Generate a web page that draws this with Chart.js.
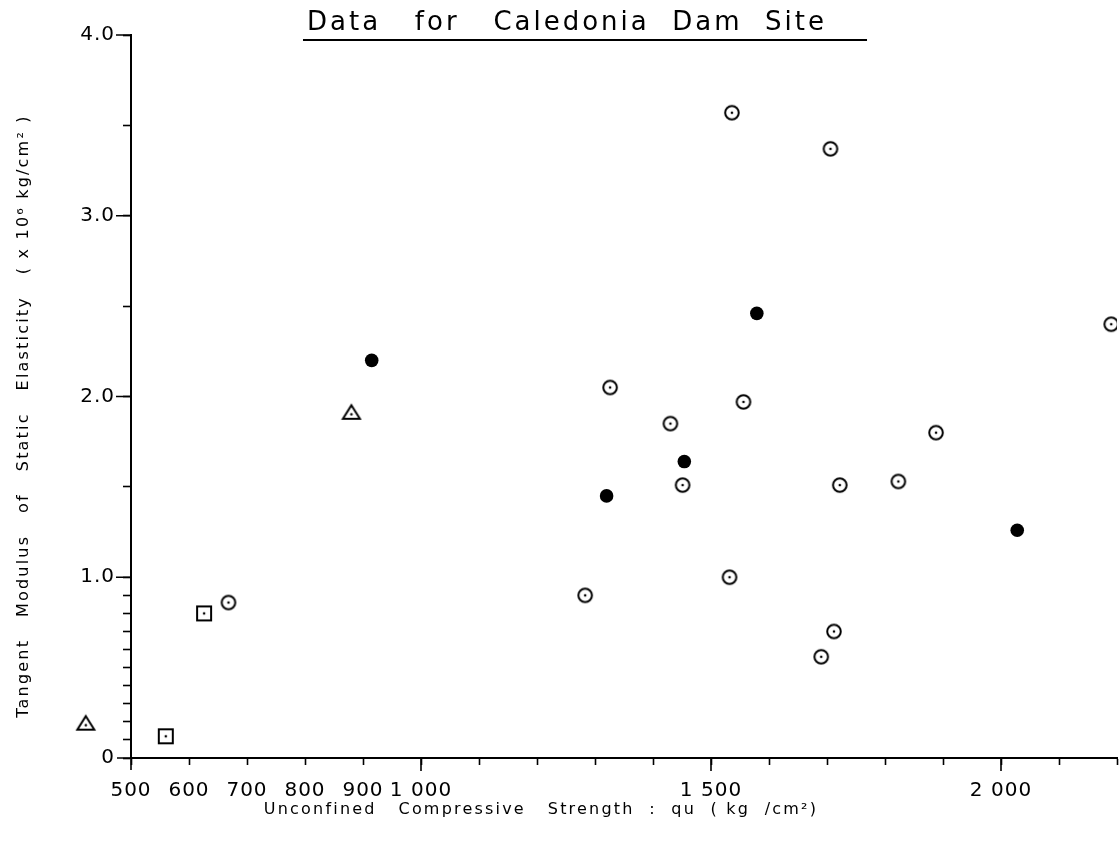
<!DOCTYPE html>
<html>
<head>
<meta charset="utf-8">
<title>Data for Caledonia Dam Site</title>
<script src="https://cdn.jsdelivr.net/npm/chart.js@4.4.1/dist/chart.umd.min.js"></script>
<style>
    body { margin: 0; background: #fff; }
    #wrap { width: 1120px; height: 850px; }
</style>
</head>
<body>
<div id="wrap"><canvas id="chart" width="1120" height="850"></canvas></div>
<script>
// qu (kg/cm2) and tangent modulus (x10^6 kg/cm2)
const openX = [668, 1283, 1326, 1430, 1451, 1532, 1536, 1556, 1690, 1706, 1712, 1722, 1823, 1888, 2190];
const openY = [0.86, 0.90, 2.05, 1.85, 1.51, 1.00, 3.57, 1.97, 0.56, 3.37, 0.70, 1.51, 1.53, 1.80, 2.40];
const solidX = [915, 1320, 1454, 1579, 2028];
const solidY = [2.20, 1.45, 1.64, 2.46, 1.26];
const triangleX = [422, 880];
const triangleY = [0.19, 1.91];
const squareX = [560, 626];
const squareY = [0.12, 0.80];

// axis ticks
const xLabelValues = [500, 600, 700, 800, 900, 1000, 1500, 2000];
const xLabelTexts = ['500', '600', '700', '800', '900', '1 000', '1 500', '2 000'];
const xLongTicks = [1000, 1500, 2000];
const yTickValues = [0, 0.1, 0.2, 0.3, 0.4, 0.5, 0.6, 0.7, 0.8, 0.9, 1.0, 1.5, 2.0, 2.5, 3.0, 3.5, 4.0];
const yLabelValues = [0, 1, 2, 3, 4];
const yLabelTexts = ['0', '1.0', '2.0', '3.0', '4.0'];

const chartTitle = 'Data   for   Caledonia  Dam  Site';
const xTitle = 'Unconfined   Compressive   Strength  :  qu  ( kg  /cm²)';
const yTitle = 'Tangent   Modulus   of   Static   Elasticity   ( x 10⁶ kg/cm² )';

const toPoints = (xs, ys) => xs.map((x, i) => ({ x: x, y: ys[i] }));

// plotter style markers: open shapes with a dot in the middle
function makeMarker(shape) {
    const c = document.createElement('canvas');
    c.width = 22; c.height = 22;
    const g = c.getContext('2d');
    g.strokeStyle = '#000';
    g.fillStyle = '#000';
    g.lineWidth = 2;
    g.beginPath();
    if (shape === 'circle') g.arc(11, 11, 6.8, 0, Math.PI * 2);
    if (shape === 'square') g.rect(4, 4, 14, 14);
    if (shape === 'triangle') { g.moveTo(11, 3.5); g.lineTo(19.5, 17); g.lineTo(2.5, 17); g.closePath(); }
    g.stroke();
    g.beginPath();
    g.arc(11, shape === 'triangle' ? 12.5 : 11, 1.3, 0, Math.PI * 2);
    g.fill();
    return c;
}

const extras = {
    id: 'extras',
    beforeDraw(chart) {
        // the plotter lettering is a little spaced out, tick labels included
        chart.ctx.letterSpacing = '1px';
    },
    afterDraw(chart) {
        const ctx = chart.ctx;
        const sx = chart.scales.x, sy = chart.scales.y;
        const a = chart.chartArea;
        ctx.save();
        ctx.strokeStyle = '#000';
        ctx.lineWidth = 1.6;
        ctx.beginPath();
        xLongTicks.forEach(v => {
            const px = sx.getPixelForValue(v);
            ctx.moveTo(px, a.bottom); ctx.lineTo(px, a.bottom + 13);
        });
        yLabelValues.filter(v => v > 0).forEach(v => {
            const py = sy.getPixelForValue(v);
            ctx.moveTo(a.left, py); ctx.lineTo(a.left - 15, py);
        });
        ctx.moveTo(a.left - 14, a.bottom); ctx.lineTo(a.left, a.bottom);
        ctx.moveTo(a.left, a.bottom); ctx.lineTo(a.left, a.bottom + 12);
        ctx.stroke();

        ctx.fillStyle = '#000';
        ctx.textAlign = 'center';
        ctx.textBaseline = 'alphabetic';

        // title with underline
        ctx.font = '26px "DejaVu Sans"';
        ctx.letterSpacing = '3px';
        ctx.fillText(chartTitle, 567, 30);
        const tw = ctx.measureText(chartTitle).width;
        ctx.fillRect(567 - tw / 2 - 4, 39, tw + 44, 2);

        // axis titles
        ctx.font = '16px "DejaVu Sans"';
        ctx.letterSpacing = '2.2px';
        ctx.fillText(xTitle, 541, 814);
        ctx.translate(28, 416);
        ctx.rotate(-Math.PI / 2);
        ctx.fillText(yTitle, 0, 0);
        ctx.restore();
    }
};

new Chart(document.getElementById('chart'), {
    type: 'scatter',
    data: {
        datasets: [
            { data: toPoints(openX, openY), pointStyle: makeMarker('circle'), pointRadius: 8 },
            { data: toPoints(solidX, solidY), pointStyle: 'circle', pointRadius: 6.8, backgroundColor: '#000', borderWidth: 0 },
            // radius only widens the in-area test so the point left of the axis is still drawn
            { data: toPoints(triangleX, triangleY), pointStyle: makeMarker('triangle'), pointRadius: 50, clip: false },
            { data: toPoints(squareX, squareY), pointStyle: makeMarker('square'), pointRadius: 8 }
        ]
    },
    options: {
        responsive: false,
        animation: false,
        events: [],
        layout: { autoPadding: false, padding: { top: 35, right: 3, left: 0, bottom: 0 } },
        plugins: { legend: { display: false }, tooltip: { enabled: false }, title: { display: false } },
        scales: {
            x: {
                type: 'linear',
                min: 500,
                max: 2200,
                afterFit: s => { s.height = 92; s.paddingLeft = 0; s.paddingRight = 0; },
                border: { color: '#000', width: 2 },
                grid: { drawOnChartArea: false, tickLength: 7, tickColor: '#000', tickWidth: 1.6 },
                ticks: {
                    stepSize: 100,
                    autoSkip: false,
                    maxRotation: 0,
                    padding: 14,
                    color: '#000',
                    font: { family: 'DejaVu Sans', size: 20 },
                    callback: v => {
                        const i = xLabelValues.indexOf(v);
                        return i < 0 ? '' : xLabelTexts[i];
                    }
                }
            },
            y: {
                type: 'linear',
                min: 0,
                max: 4,
                afterFit: s => { s.width = 131; s.paddingTop = 0; s.paddingBottom = 0; },
                afterBuildTicks: s => { s.ticks = yTickValues.map(v => ({ value: v })); },
                border: { color: '#000', width: 2 },
                grid: { drawOnChartArea: false, tickLength: 8, tickColor: '#000', tickWidth: 1.6 },
                ticks: {
                    autoSkip: false,
                    padding: 8,
                    color: '#000',
                    font: { family: 'DejaVu Sans', size: 20 },
                    callback: v => {
                        const i = yLabelValues.findIndex(t => Math.abs(t - v) < 1e-9);
                        return i < 0 ? '' : yLabelTexts[i];
                    }
                }
            }
        }
    },
    plugins: [extras]
});
</script>
</body>
</html>
